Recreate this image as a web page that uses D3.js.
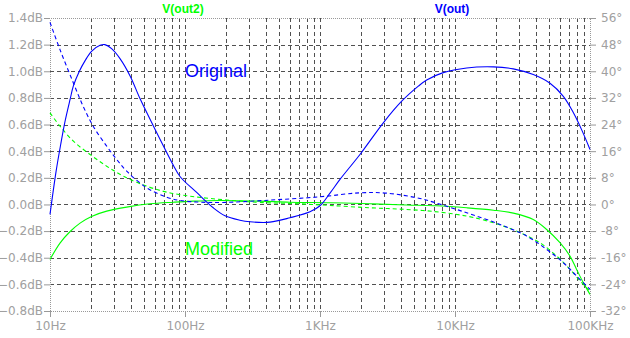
<!DOCTYPE html>
<meta charset="utf-8">
<style>
    body { margin: 0; background: #fff; }
    .tick text { font: 12px "DejaVu Sans", sans-serif; fill: #a0a0a0; }
    .trace-title { font: bold 12px "Liberation Sans", Arial, sans-serif; text-anchor: middle; }
    .note { font: 18px "Liberation Sans", Arial, sans-serif; }
</style>
<svg width="630" height="338"></svg>
<script src="https://d3js.org/d3.v7.min.js"></script>
<script>

    // frequencies (Hz) and values
    var outMagF  = [10, 11.1, 12, 12.9, 14.1, 14.9, 16.5, 18.2, 20.3, 23.5, 25.5, 28.6, 33, 39.2, 46.4, 55.1, 65.3, 81.9, 91.8, 122, 162, 198, 255, 303, 426, 600, 843, 1000, 1186, 1406, 1977, 2944, 4030, 5350, 6170, 8190, 12200, 19250, 27050, 38000, 50550, 63450, 75200, 86800, 100000];
    var outMagDb = [-0.075, 0.25, 0.45, 0.62, 0.79, 0.89, 1.0, 1.08, 1.15, 1.195, 1.2, 1.17, 1.095, 0.965, 0.795, 0.64, 0.49, 0.295, 0.21, 0.09, -0.025, -0.085, -0.118, -0.13, -0.133, -0.1, -0.055, -0.01, 0.085, 0.188, 0.375, 0.613, 0.775, 0.888, 0.935, 0.99, 1.025, 1.033, 1.018, 0.975, 0.91, 0.812, 0.69, 0.56, 0.413];

    var outPhF   = [10, 11.86, 14.9, 17.6, 20.9, 26.3, 31.2, 37, 52, 73.1, 91.8, 129, 191, 426, 1000, 1977, 3119, 5506, 6910, 12200, 21540, 33950, 47740, 63450, 79600, 100000];
    var outPhDeg = [54.7, 46.5, 36.5, 29.5, 23.5, 17.5, 13.5, 10, 5, 2.2, 1.2, 0.7, 0.6, 1.3, 2.3, 3.5, 3.4, 1.8, 0.7, -2.5, -6, -9.5, -13.5, -17.5, -21.5, -25.5];

    var out2MagF  = [10, 11.86, 14.1, 16.7, 20.3, 26.3, 37, 55.1, 82, 115, 182, 358, 600, 1186, 2350, 4380, 7230, 12200, 19250, 27050, 38000, 47740, 59900, 71100, 79600, 89200, 100000];
    var out2MagDb = [-0.413, -0.29, -0.203, -0.14, -0.09, -0.05, -0.02, 0.005, 0.017, 0.025, 0.03, 0.025, 0.017, 0.013, 0.005, -0.004, -0.01, -0.025, -0.043, -0.065, -0.113, -0.188, -0.287, -0.388, -0.488, -0.587, -0.675];

    var out2PhF   = [10, 11.86, 14.9, 19.8, 26.3, 34.9, 52, 73.1, 108.7, 162, 255, 358, 711, 1186, 2350, 3916, 6910, 12200, 19250, 28500, 42500, 56600, 71100, 86800, 100000];
    var out2PhDeg = [27.5, 23.5, 19, 15, 11.5, 8.5, 5.5, 3.7, 2.5, 1.7, 1, 0.6, 0.2, -0.3, -1, -1.4, -2.1, -3.5, -5.5, -8, -11.5, -15.5, -19.5, -23.5, -26];

    var dbTicks  = [-0.8, -0.6, -0.4, -0.2, 0, 0.2, 0.4, 0.6, 0.8, 1.0, 1.2, 1.4];
    var degTicks = [-32, -24, -16, -8, 0, 8, 16, 24, 32, 40, 48, 56];
    var decades  = [10, 100, 1000, 10000, 100000];
    var decadeLabels = ["10Hz", "100Hz", "1KHz", "10KHz", "100KHz"];

    var svg = d3.select("svg"),
        plotLeft = 50, plotRight = 590, plotTop = 18, plotBottom = 311;

    var x = d3.scaleLog().domain([10, 100000]).range([plotLeft, plotRight]);
    var yDb = d3.scaleLinear().domain([-0.8, 1.4]).range([plotBottom, plotTop]);
    var yDeg = d3.scaleLinear().domain([-32, 56]).range([plotBottom, plotTop]);

    // grid
    var minor = [];
    decades.slice(0, -1).forEach(function(d) {
        for (var k = 2; k <= 9; k++) minor.push(d * k);
    });
    var vlines = minor.concat([100, 1000, 10000]);

    var grid = svg.append("g")
        .attr("stroke", "#505050")
        .attr("stroke-dasharray", "4,3")
        .attr("shape-rendering", "crispEdges");

    grid.selectAll(".v").data(vlines).enter().append("line")
        .attr("x1", function(d) { return Math.round(x(d)) + 0.5; })
        .attr("x2", function(d) { return Math.round(x(d)) + 0.5; })
        .attr("y1", plotTop).attr("y2", plotBottom);

    grid.selectAll(".h").data(dbTicks.slice(1, -1)).enter().append("line")
        .attr("x1", plotLeft).attr("x2", plotRight)
        .attr("y1", function(d) { return Math.round(yDb(d)) + 0.5; })
        .attr("y2", function(d) { return Math.round(yDb(d)) + 0.5; });

    // frame
    svg.append("rect")
        .attr("x", plotLeft + 0.5).attr("y", plotTop + 0.5)
        .attr("width", plotRight - plotLeft).attr("height", plotBottom - plotTop)
        .attr("fill", "none")
        .attr("stroke", "#999")
        .attr("stroke-dasharray", "1,1")
        .attr("shape-rendering", "crispEdges");

    // axes
    function styleAxis(g) {
        g.select(".domain").remove();
        g.selectAll(".tick line").attr("stroke", "#999");
    }

    svg.append("g")
        .attr("transform", "translate(" + plotLeft + ",0)")
        .call(d3.axisLeft(yDb).tickValues(dbTicks).tickSize(6).tickPadding(1)
            .tickFormat(function(d) { return d3.format(".1f")(d) + "dB"; }))
        .call(styleAxis);

    svg.append("g")
        .attr("transform", "translate(" + plotRight + ",0)")
        .call(d3.axisRight(yDeg).tickValues(degTicks).tickSize(6).tickPadding(5)
            .tickFormat(function(d) { return d + "°"; }))
        .call(styleAxis);

    svg.append("g")
        .attr("transform", "translate(0," + plotBottom + ")")
        .call(d3.axisBottom(x).tickValues(decades).tickSize(6).tickPadding(4)
            .tickFormat(function(d, i) { return decadeLabels[i]; }))
        .call(styleAxis);

    // traces
    function trace(fs, vs, yScale, color, dashed) {
        var pts = fs.map(function(f, i) { return [f, vs[i]]; });
        var line = d3.line()
            .x(function(d) { return x(d[0]); })
            .y(function(d) { return yScale(d[1]); })
            .curve(d3.curveCatmullRom.alpha(0.5));
        svg.append("path")
            .datum(pts)
            .attr("d", line)
            .attr("fill", "none")
            .attr("stroke", color)
            .attr("stroke-width", 1.1)
            .attr("stroke-dasharray", dashed ? "4,3" : null);
    }

    trace(out2PhF, out2PhDeg, yDeg, "#00ff00", true);
    trace(out2MagF, out2MagDb, yDb, "#00ff00", false);
    trace(outPhF, outPhDeg, yDeg, "#0000ff", true);
    trace(outMagF, outMagDb, yDb, "#0000ff", false);

    // labels
    svg.append("text").attr("class", "trace-title")
        .attr("x", 183).attr("y", 13).attr("fill", "#00ff00").text("V(out2)");
    svg.append("text").attr("class", "trace-title")
        .attr("x", 452).attr("y", 13).attr("fill", "#0000ff").text("V(out)");

    svg.append("text").attr("class", "note")
        .attr("x", 185).attr("y", 77).attr("fill", "#0000ff").text("Original");
    svg.append("text").attr("class", "note")
        .attr("x", 185).attr("y", 255).attr("fill", "#00ff00").text("Modified");

</script>
